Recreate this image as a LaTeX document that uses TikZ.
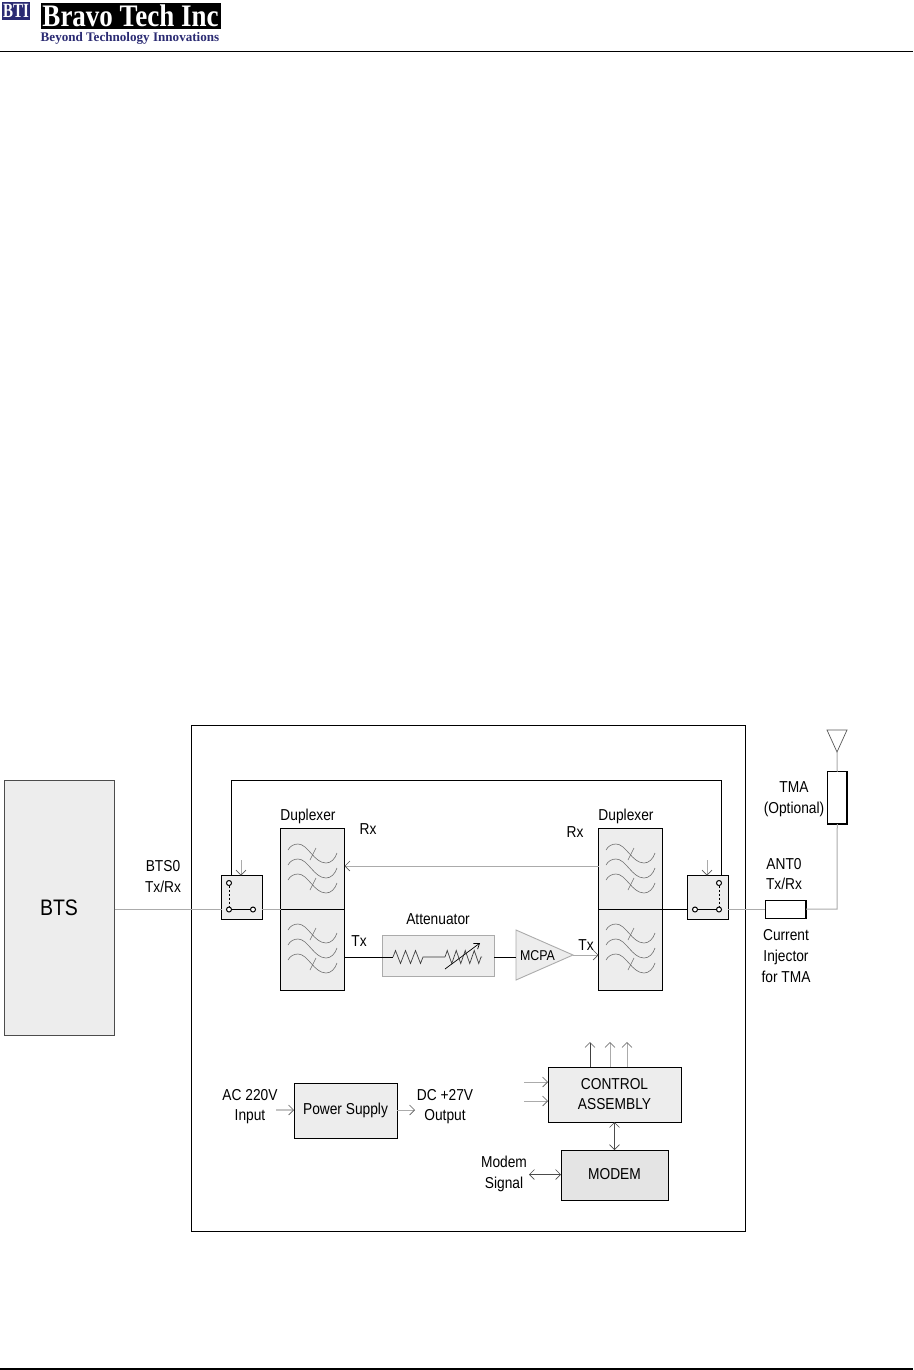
\documentclass[tikz,border=0pt]{standalone}
\usepackage{fontspec}
\setmainfont{Liberation Sans}
\newfontfamily\logofont{Liberation Serif}
\usetikzlibrary{arrows.meta,decorations.pathmorphing}
\definecolor{panel}{HTML}{EDEDED}
\definecolor{panelb}{HTML}{E4E4E4}
\definecolor{wire}{HTML}{ABABAB}
\definecolor{curve}{HTML}{707070}
\definecolor{navy}{HTML}{2B2B73}
\tikzset{
  x=1pt,y=-1pt,
  box/.style={draw=black,line width=1pt,fill=panel,inner sep=0pt,outer sep=0pt},
  lbl/.style={font=\fontsize{13.75}{16}\selectfont,inner sep=0pt,text=black,align=center,yscale=1.15},
  bk/.style={draw=black,line width=1pt},
  gy/.style={draw=wire,line width=1pt},
  tipo/.style={-{Straight Barb[length=5pt,width=10pt,line width=0.6pt,color=black!65]}},
  tipb/.style={{Straight Barb[length=5pt,width=10pt,line width=0.6pt]}-{Straight Barb[length=5pt,width=10pt,line width=0.6pt]}},
  pin/.style={circle,draw=black,fill=white,line width=1pt,minimum size=5pt,inner sep=0pt,outer sep=0pt},
  wave/.style={draw=curve,line width=0.6pt},
  zig/.style={draw=black!75,line width=0.7pt,decorate,decoration={zigzag,segment length=#1,amplitude=6.5pt}}
}
% \bx{name}{x1}{y1}{x2}{y2}{style}
\newcommand{\bx}[6]{%
  \pgfmathsetmacro{\bxw}{#4-#2}\pgfmathsetmacro{\bxh}{#5-#3}%
  \pgfmathsetmacro{\bxx}{(#2+#4)/2}\pgfmathsetmacro{\bxy}{(#3+#5)/2}%
  \node[box,minimum width=\bxw pt,minimum height=\bxh pt,#6] (#1) at (\bxx,\bxy) {};}
% one wavy curve with origin at left end
\newcommand{\onewave}[2]{%
  \draw[wave,shift={(#1,#2)}] (0,0) .. controls (2,-4) and (6,-6) .. (10,-6)
     .. controls (20,-6) and (26,13) .. (38,13) .. controls (43,13) and (47,9) .. (49,3);}
\newcommand{\filt}[2]{%
  \begin{scope}[shift={(#1,#2)}]
  \onewave{0}{0}\onewave{0}{15}\onewave{0}{30}
  \draw[wave] (28,-2) -- (22,10);
  \draw[wave] (28,28) -- (22,40);
  \end{scope}}
\begin{document}
\begin{tikzpicture}
\useasboundingbox (0,0) rectangle (913,1370);
\fill[white] (0,0) rectangle (913,1370);

% header
\node[fill=navy,minimum width=28pt,minimum height=18pt,inner sep=0pt] (bti) at (16,11) {};
\node[inner sep=0pt,yscale=1.35,text=white] (btit) at (16,11)
  {\logofont\bfseries\fontsize{15}{15}\selectfont BTI};
\node[fill=black,minimum width=180pt,minimum height=26pt,inner sep=0pt] (brand) at (130.5,16) {};
\node[inner sep=0pt,yscale=1.16,text=white] (brandtxt) at (130.5,15.5)
  {\logofont\bfseries\fontsize{27}{27}\selectfont Bravo Tech Inc};
\node[inner sep=0pt,text=navy] (tagline) at (130,38)
  {\logofont\bfseries\fontsize{13.1}{13.1}\selectfont Beyond Technology Innovations};
\coordinate (hl) at (0,51.5); \coordinate (hr) at (913,51.5);
\draw[black,line width=1pt] (hl) -- (hr);
\coordinate (fl) at (0,1369); \coordinate (fr) at (913,1369);
\draw[black,line width=1.6pt] (fl) -- (fr);

% main enclosures
\bx{main}{191.5}{725.5}{745}{1231}{fill=white}
\bx{bts}{4.5}{780.5}{114.5}{1035}{draw=black!70}
\node[lbl,font=\fontsize{19.5}{22}\selectfont] (btst) at (59,908) {BTS};

% duplexers
\bx{dlt}{280.5}{828}{344.5}{909}{}
\bx{dlb}{280.5}{909}{344.5}{990.5}{}
\bx{drt}{598.5}{828}{662.5}{909}{}
\bx{drb}{598.5}{909}{662.5}{990.5}{}
\filt{288}{850}\filt{288}{930}\filt{606}{850}\filt{606}{930}

% switches
\bx{sl}{221.5}{875.5}{262}{919}{}
\bx{sr}{687.5}{875.5}{728}{919}{}
\node[pin] (sla) at (229,883) {};
\node[pin] (slb) at (229,909.5) {};
\node[pin] (slc) at (253,909.5) {};
\draw[black,line width=0.9pt,dash pattern=on 2.5pt off 1.5pt] (sla) -- (slb);
\draw[black,line width=0.9pt] (slb) -- (slc);
\node[pin] (sra) at (719,883) {};
\node[pin] (srb) at (719,909.5) {};
\node[pin] (src) at (695,909.5) {};
\draw[black,line width=0.9pt,dash pattern=on 2.5pt off 1.5pt] (sra) -- (srb);
\draw[black,line width=0.9pt] (srb) -- (src);

% switch control arrows
\coordinate (sltip) at (241,860); \coordinate (srtip) at (707,860);
\draw[gy,tipo] (sltip) -- (sltip |- sl.north);
\draw[gy,tipo] (srtip) -- (srtip |- sr.north);

% feedback loop above the switches
\coordinate (loopl) at (231,780.5); \coordinate (loopr) at (721,780.5);
\draw[bk] (loopl |- sl.north) -- (loopl) -- (loopr) -- (loopr |- sr.north);

% through-path
\draw[gy] (bts.east |- slb) -- (sl.west |- slb);
\draw[gy] (sl.east |- dlb.north) -- (dlb.north west);
\draw[bk] (drb.north east) -- (sr.west |- drb.north);
\coordinate (rxy) at (0,866);
\draw[gy,tipo] (drt.west |- rxy) -- (dlt.east |- rxy);

% attenuator
\bx{att}{382}{935}{494}{976}{draw=wire}
\coordinate (rla) at (393,957); \coordinate (rlb) at (424,957);
\coordinate (rra) at (445,957); \coordinate (rrb) at (482,957);
\draw[bk] (dlb.east |- rla) -- (rla);
\draw[zig=10pt] (rla) -- (rlb);
\draw[draw=wire,line width=1.4pt] (rlb) -- (rra);
\draw[zig=9pt] (rra) -- (rrb);
\coordinate (vara) at (445,969); \coordinate (varb) at (480,943);
\draw[black,line width=0.7pt,-{Straight Barb[length=5pt,width=7pt]}] (vara) -- (varb);

% MCPA
\coordinate (mca) at (516,930); \coordinate (mcb) at (516,980); \coordinate (mcc) at (573,955);
\draw[draw=wire,fill=panel,line width=0.9pt] (mca) -- (mcb) -- (mcc) -- cycle;
\node[lbl,font=\fontsize{12.4}{14}\selectfont] (mcpa) at (537.5,955.5) {MCPA};
\draw[bk] (att.east |- rla) -- (mca |- rla);
\draw[gy,tipo] (mcc) -- (drb.west |- mcc);

% antenna side
\bx{inj}{765}{900}{806}{918}{fill=white}
\draw[black,line width=1.6pt] (inj.north east) -- (inj.south east);
\bx{tma}{827.5}{771.5}{847}{824}{fill=white}
\draw[black,line width=1.6pt] (tma.north east) -- (tma.south east) -- (tma.south west);
\draw[gy] (sr.east |- srb) -- (inj.west |- srb);
\coordinate (elbow) at (837,909);
\draw[gy] (inj.east |- elbow) -- (elbow) -- (tma.south);
\coordinate (anta) at (827,730); \coordinate (antb) at (847,730); \coordinate (antc) at (837,752);
\draw[draw=black!65,line width=0.7pt] (anta) -- (antb) -- (antc) -- cycle;
\draw[gy] (tma.north) -- (antc);

% lower blocks
\bx{psu}{294}{1083}{397}{1138}{}
\bx{ctl}{548}{1067}{681}{1122}{}
\bx{mod}{561}{1150}{668}{1200}{fill=panelb}
\node[lbl] (psut) at (345.5,1110) {Power Supply};
\node[lbl] (ctlt) at (614.5,1094) {CONTROL\\[2pt]ASSEMBLY};
\node[lbl] (modt) at (614.5,1174) {MODEM};

\coordinate (acin) at (276,1110); \coordinate (dcout) at (415,1110);
\draw[draw=wire!70,line width=1.2pt,tipo] (acin) -- (psu.west |- acin);
\draw[gy,tipo] (psu.east |- dcout) -- (dcout);
\coordinate (cia) at (524,1082); \coordinate (cib) at (524,1101);
\draw[gy,tipo] (cia) -- (ctl.west |- cia);
\draw[gy,tipo] (cib) -- (ctl.west |- cib);
\coordinate (coa) at (590,1042); \coordinate (cob) at (610,1042); \coordinate (coc) at (627,1042);
\draw[draw=black!75,line width=0.9pt,tipo] (ctl.north -| coa) -- (coa);
\draw[gy,tipo] (ctl.north -| cob) -- (cob);
\draw[gy,tipo] (ctl.north -| coc) -- (coc);
\draw[draw=black!70,line width=0.9pt,tipb] (ctl.south) -- (mod.north);
\coordinate (msig) at (529,1174.5);
\draw[draw=black!70,line width=0.9pt,tipb] (msig) -- (mod.west |- msig);

% labels
\node[lbl] (t01) at (163,876.5) {BTS0\\[2pt]Tx/Rx};
\node[lbl] (t02) at (308,816) {Duplexer};
\node[lbl] (t03) at (626,816) {Duplexer};
\node[lbl] (t04) at (368,829) {Rx};
\node[lbl] (t05) at (575,832) {Rx};
\node[lbl] (t06) at (359,941) {Tx};
\node[lbl] (t07) at (586,945) {Tx};
\node[lbl] (t08) at (438,919) {Attenuator};
\node[lbl] (t09) at (794,799.5) {TMA\\[2pt](Optional)};
\node[lbl] (t10) at (784,874) {ANT0\\[2pt]Tx/Rx};
\node[lbl] (t11) at (786,956) {Current\\[2pt]Injector\\[2pt]for TMA};
\node[lbl] (t12) at (250,1106.5) {AC 220V\\[2pt]Input};
\node[lbl] (t13) at (445,1106.5) {DC +27V\\[2pt]Output};
\node[lbl] (t14) at (504,1174) {Modem\\[2pt]Signal};
\end{tikzpicture}
\end{document}
